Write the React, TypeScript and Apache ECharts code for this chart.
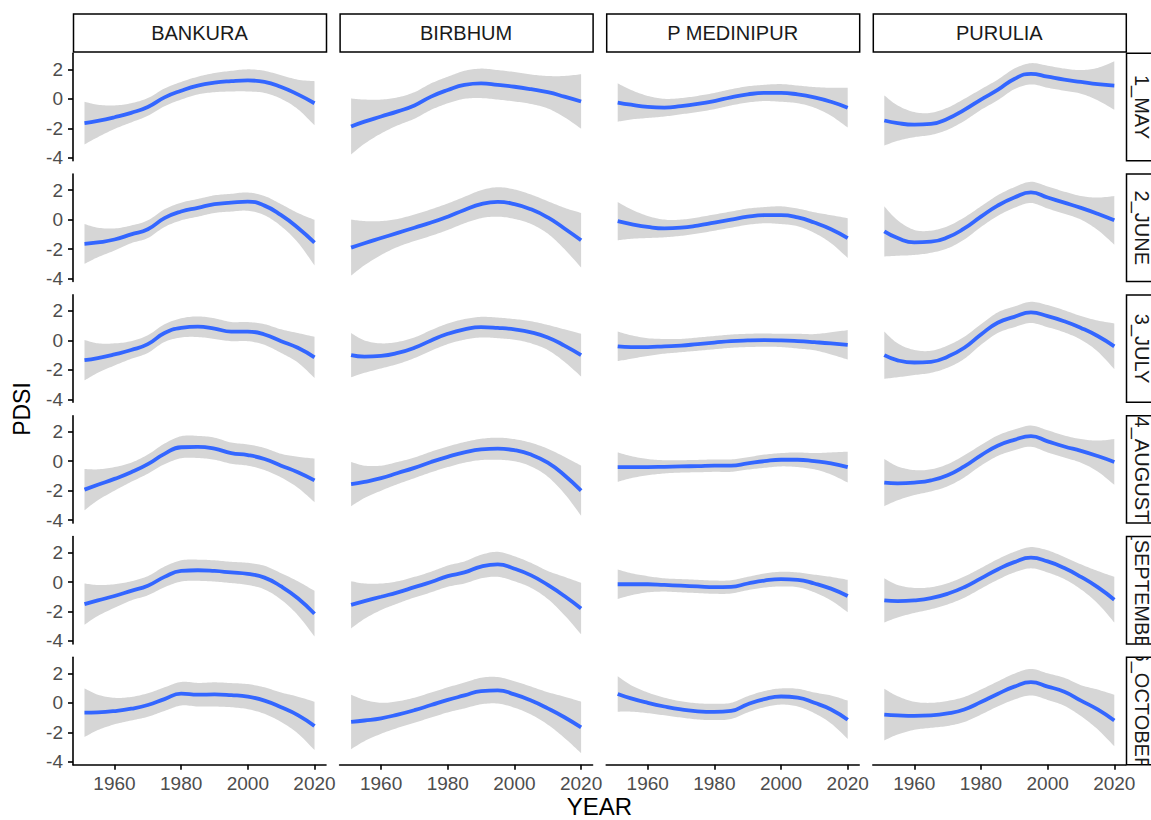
import React, { useEffect, useRef } from "react";
import * as echarts from "echarts";

// ---------------- data ----------------
const YEARS = [1951, 1955, 1960, 1965, 1970, 1975, 1980, 1985, 1990, 1995, 2000, 2005, 2010, 2015, 2020];
const DISTRICTS = ["BANKURA", "BIRBHUM", "P MEDINIPUR", "PURULIA"];
const MONTHS = ["1_MAY", "2_JUNE", "3_JULY", "4_AUGUST", "5_SEPTEMBER", "6_OCTOBER"];
const X_TICKS = [1960, 1980, 2000, 2020];
const Y_TICKS = [-4, -2, 0, 2];

// MAY
const mayBankuraFit = [-1.65, -1.5, -1.25, -0.95, -0.55, 0.1, 0.55, 0.9, 1.1, 1.2, 1.25, 1.15, 0.8, 0.3, -0.3];
const mayBankuraHalf = [1.45, 1.1, 0.8, 0.65, 0.6, 0.6, 0.6, 0.6, 0.65, 0.7, 0.75, 0.75, 0.8, 1.0, 1.5];
const mayBirbhumFit = [-1.88, -1.55, -1.2, -0.85, -0.45, 0.15, 0.6, 0.95, 1.05, 0.95, 0.82, 0.65, 0.45, 0.15, -0.18];
const mayBirbhumHalf = [1.9, 1.5, 1.15, 0.95, 0.9, 0.9, 0.9, 0.95, 1.0, 1.0, 1.0, 1.0, 1.1, 1.4, 1.85];
const mayMedinipurFit = [-0.25, -0.4, -0.55, -0.6, -0.5, -0.35, -0.15, 0.1, 0.3, 0.4, 0.4, 0.3, 0.1, -0.2, -0.6];
const mayMedinipurHalf = [1.3, 1.0, 0.75, 0.6, 0.55, 0.55, 0.55, 0.55, 0.55, 0.55, 0.6, 0.6, 0.7, 0.95, 1.35];
const mayPuruliaFit = [-1.47, -1.65, -1.75, -1.7, -1.35, -0.75, -0.05, 0.6, 1.35, 1.7, 1.5, 1.3, 1.15, 1.0, 0.9];
const mayPuruliaHalf = [1.7, 1.2, 0.85, 0.75, 0.75, 0.75, 0.7, 0.7, 0.7, 0.72, 0.75, 0.75, 0.8, 1.1, 1.65];

// JUNE
const junBankuraFit = [-1.65, -1.55, -1.35, -1.0, -0.65, 0.1, 0.55, 0.8, 1.05, 1.15, 1.22, 0.95, 0.3, -0.55, -1.56];
const junBankuraHalf = [1.35, 1.0, 0.75, 0.6, 0.6, 0.6, 0.6, 0.6, 0.6, 0.6, 0.62, 0.65, 0.75, 1.0, 1.55];
const junBirbhumFit = [-1.9, -1.6, -1.25, -0.9, -0.55, -0.2, 0.2, 0.65, 1.05, 1.2, 1.05, 0.7, 0.15, -0.6, -1.4];
const junBirbhumHalf = [1.9, 1.5, 1.15, 0.95, 0.9, 0.9, 0.9, 0.9, 0.95, 1.0, 1.0, 1.0, 1.1, 1.4, 1.85];
const junMedinipurFit = [-0.1, -0.3, -0.5, -0.6, -0.55, -0.4, -0.2, 0.0, 0.2, 0.3, 0.3, 0.15, -0.2, -0.65, -1.25];
const junMedinipurHalf = [1.3, 1.0, 0.75, 0.6, 0.55, 0.55, 0.55, 0.55, 0.55, 0.55, 0.6, 0.6, 0.7, 0.95, 1.35];
const junPuruliaFit = [-0.8, -1.25, -1.55, -1.5, -1.2, -0.6, 0.2, 0.95, 1.5, 1.85, 1.5, 1.15, 0.8, 0.4, -0.05];
const junPuruliaHalf = [1.7, 1.2, 0.85, 0.75, 0.75, 0.75, 0.7, 0.7, 0.7, 0.72, 0.75, 0.75, 0.8, 1.1, 1.65];

// JULY
const julBankuraFit = [-1.34, -1.2, -0.95, -0.65, -0.25, 0.5, 0.85, 0.93, 0.8, 0.6, 0.6, 0.4, -0.05, -0.5, -1.15];
const julBankuraHalf = [1.37, 1.0, 0.75, 0.6, 0.6, 0.6, 0.65, 0.7, 0.7, 0.65, 0.65, 0.7, 0.8, 1.0, 1.4];
const julBirbhumFit = [-1.0, -1.1, -1.05, -0.85, -0.5, 0.0, 0.45, 0.75, 0.9, 0.85, 0.75, 0.55, 0.2, -0.35, -1.0];
const julBirbhumHalf = [1.5, 1.1, 0.85, 0.75, 0.7, 0.7, 0.7, 0.7, 0.7, 0.7, 0.7, 0.75, 0.85, 1.1, 1.45];
const julMedinipurFit = [-0.4, -0.45, -0.45, -0.4, -0.35, -0.25, -0.15, -0.05, 0.0, 0.02, 0.0, -0.05, -0.12, -0.2, -0.3];
const julMedinipurHalf = [1.0, 0.8, 0.6, 0.5, 0.45, 0.45, 0.45, 0.45, 0.45, 0.45, 0.45, 0.5, 0.55, 0.75, 1.0];
const julPuruliaFit = [-1.0, -1.35, -1.5, -1.45, -1.1, -0.5, 0.4, 1.2, 1.6, 1.9, 1.65, 1.3, 0.85, 0.3, -0.4];
const julPuruliaHalf = [1.6, 1.15, 0.85, 0.75, 0.75, 0.75, 0.7, 0.7, 0.7, 0.72, 0.75, 0.75, 0.8, 1.05, 1.55];

// AUGUST
const augBankuraFit = [-1.93, -1.6, -1.2, -0.75, -0.2, 0.5, 0.95, 0.97, 0.85, 0.55, 0.42, 0.15, -0.3, -0.75, -1.3];
const augBankuraHalf = [1.4, 1.05, 0.8, 0.65, 0.65, 0.7, 0.75, 0.75, 0.75, 0.72, 0.72, 0.75, 0.8, 1.05, 1.48];
const augBirbhumFit = [-1.55, -1.4, -1.15, -0.8, -0.45, -0.05, 0.3, 0.6, 0.8, 0.85, 0.75, 0.45, -0.1, -0.95, -2.0];
const augBirbhumHalf = [1.5, 1.1, 0.85, 0.75, 0.7, 0.7, 0.7, 0.7, 0.72, 0.75, 0.75, 0.8, 0.95, 1.25, 1.7];
const augMedinipurFit = [-0.4, -0.4, -0.4, -0.38, -0.35, -0.33, -0.3, -0.3, -0.15, 0.0, 0.1, 0.1, 0.0, -0.15, -0.4];
const augMedinipurHalf = [1.0, 0.75, 0.55, 0.45, 0.42, 0.42, 0.42, 0.42, 0.42, 0.45, 0.45, 0.5, 0.55, 0.75, 1.05];
const augPuruliaFit = [-1.45, -1.5, -1.45, -1.3, -0.95, -0.35, 0.4, 1.05, 1.45, 1.7, 1.35, 1.0, 0.7, 0.35, -0.05];
const augPuruliaHalf = [1.6, 1.15, 0.85, 0.75, 0.75, 0.75, 0.7, 0.7, 0.7, 0.72, 0.75, 0.75, 0.8, 1.05, 1.55];

// SEPTEMBER
const sepBankuraFit = [-1.5, -1.25, -0.95, -0.6, -0.25, 0.35, 0.75, 0.8, 0.75, 0.65, 0.55, 0.3, -0.3, -1.1, -2.15];
const sepBankuraHalf = [1.4, 1.05, 0.8, 0.65, 0.65, 0.7, 0.72, 0.72, 0.72, 0.72, 0.75, 0.8, 0.9, 1.15, 1.55];
const sepBirbhumFit = [-1.55, -1.3, -1.0, -0.7, -0.35, 0.0, 0.4, 0.65, 1.05, 1.2, 0.9, 0.45, -0.2, -0.95, -1.8];
const sepBirbhumHalf = [1.6, 1.2, 0.9, 0.75, 0.7, 0.7, 0.72, 0.75, 0.8, 0.85, 0.85, 0.85, 0.95, 1.3, 1.75];
const sepMedinipurFit = [-0.15, -0.15, -0.15, -0.2, -0.25, -0.3, -0.35, -0.33, -0.1, 0.1, 0.2, 0.15, -0.1, -0.45, -0.95];
const sepMedinipurHalf = [1.0, 0.75, 0.55, 0.45, 0.45, 0.45, 0.45, 0.45, 0.45, 0.48, 0.5, 0.5, 0.6, 0.8, 1.1];
const sepPuruliaFit = [-1.25, -1.3, -1.25, -1.1, -0.8, -0.35, 0.25, 0.85, 1.35, 1.65, 1.4, 0.95, 0.35, -0.35, -1.2];
const sepPuruliaHalf = [1.5, 1.1, 0.85, 0.75, 0.72, 0.72, 0.7, 0.7, 0.7, 0.72, 0.75, 0.75, 0.85, 1.1, 1.55];

// OCTOBER
const octBankuraFit = [-0.67, -0.65, -0.56, -0.4, -0.15, 0.25, 0.62, 0.55, 0.57, 0.52, 0.42, 0.15, -0.3, -0.83, -1.57];
const octBankuraHalf = [1.65, 1.2, 0.9, 0.8, 0.8, 0.8, 0.8, 0.8, 0.82, 0.82, 0.85, 0.9, 1.0, 1.25, 1.64];
const octBirbhumFit = [-1.3, -1.2, -1.05, -0.8, -0.5, -0.15, 0.2, 0.5, 0.8, 0.85, 0.57, 0.15, -0.38, -0.98, -1.67];
const octBirbhumHalf = [1.85, 1.4, 1.05, 0.9, 0.85, 0.85, 0.85, 0.88, 0.9, 0.9, 0.9, 0.95, 1.1, 1.4, 1.75];
const octMedinipurFit = [0.6, 0.3, 0.0, -0.25, -0.45, -0.58, -0.62, -0.55, -0.1, 0.25, 0.43, 0.35, 0.0, -0.45, -1.15];
const octMedinipurHalf = [1.2, 0.9, 0.7, 0.6, 0.55, 0.55, 0.55, 0.55, 0.55, 0.55, 0.55, 0.6, 0.7, 0.95, 1.3];
const octPuruliaFit = [-0.8, -0.85, -0.88, -0.85, -0.72, -0.45, 0.05, 0.6, 1.1, 1.4, 1.1, 0.75, 0.15, -0.45, -1.2];
const octPuruliaHalf = [1.75, 1.3, 0.95, 0.85, 0.85, 0.85, 0.85, 0.85, 0.88, 0.9, 0.9, 0.95, 1.05, 1.35, 1.75];

// rows = months, columns = districts
const FITS = [
  [mayBankuraFit, mayBirbhumFit, mayMedinipurFit, mayPuruliaFit],
  [junBankuraFit, junBirbhumFit, junMedinipurFit, junPuruliaFit],
  [julBankuraFit, julBirbhumFit, julMedinipurFit, julPuruliaFit],
  [augBankuraFit, augBirbhumFit, augMedinipurFit, augPuruliaFit],
  [sepBankuraFit, sepBirbhumFit, sepMedinipurFit, sepPuruliaFit],
  [octBankuraFit, octBirbhumFit, octMedinipurFit, octPuruliaFit],
];
const HALFS = [
  [mayBankuraHalf, mayBirbhumHalf, mayMedinipurHalf, mayPuruliaHalf],
  [junBankuraHalf, junBirbhumHalf, junMedinipurHalf, junPuruliaHalf],
  [julBankuraHalf, julBirbhumHalf, julMedinipurHalf, julPuruliaHalf],
  [augBankuraHalf, augBirbhumHalf, augMedinipurHalf, augPuruliaHalf],
  [sepBankuraHalf, sepBirbhumHalf, sepMedinipurHalf, sepPuruliaHalf],
  [octBankuraHalf, octBirbhumHalf, octMedinipurHalf, octPuruliaHalf],
];

// ---------------- layout ----------------
const FONT = "'Liberation Sans', Arial, Helvetica, sans-serif";
const PANEL_LEFT = 73;
const PANEL_STEP_X = 266.6;
const PANEL_W = 253;
const PANEL_TOP = 53.3;
const PANEL_STEP_Y = 120.8;
const PANEL_H = 107.4;
const STRIP_TOP = 14;
const STRIP_H = 38;
const RSTRIP_X = 1126.5;
const RSTRIP_W = 38;

// Catmull-Rom smoothing of screen-space points (rendering only)
function smoothPath(pts: number[][], seg = 10): number[][] {
  const out: number[][] = [];
  const n = pts.length;
  for (let i = 0; i < n - 1; i++) {
    const p0 = pts[Math.max(i - 1, 0)];
    const p1 = pts[i];
    const p2 = pts[i + 1];
    const p3 = pts[Math.min(i + 2, n - 1)];
    for (let s = 0; s < seg; s++) {
      const t = s / seg;
      const t2 = t * t;
      const t3 = t2 * t;
      const f = (a: number, b: number, c: number, d: number) =>
        0.5 * (2 * b + (-a + c) * t + (2 * a - 5 * b + 4 * c - d) * t2 + (-a + 3 * b - 3 * c + d) * t3);
      out.push([f(p0[0], p1[0], p2[0], p3[0]), f(p0[1], p1[1], p2[1], p3[1])]);
    }
  }
  out.push(pts[n - 1]);
  return out;
}

function buildOption() {
  const grid: any[] = [];
  const xAxis: any[] = [];
  const yAxis: any[] = [];
  const series: any[] = [];

  MONTHS.forEach((_, i) => {
    DISTRICTS.forEach((_, j) => {
      const k = i * DISTRICTS.length + j;
      const bottomRow = i === MONTHS.length - 1;
      const leftCol = j === 0;
      grid.push({
        left: PANEL_LEFT + PANEL_STEP_X * j,
        top: PANEL_TOP + PANEL_STEP_Y * i,
        width: PANEL_W,
        height: PANEL_H,
        containLabel: false,
        outerBoundsMode: "none",
      });
      xAxis.push({
        gridIndex: k,
        type: "value",
        min: 1947.55,
        max: 2023.45,
        axisLine: { show: bottomRow, onZero: false, lineStyle: { color: "#000", width: 1.6 } },
        axisTick: { show: bottomRow, length: 5, customValues: X_TICKS, lineStyle: { color: "#000", width: 1.6 } },
        axisLabel: {
          show: bottomRow,
          customValues: X_TICKS,
          formatter: (v: number) => String(Math.round(v)),
          color: "#4d4d4d",
          fontSize: 19,
          fontFamily: FONT,
          margin: 9,
        },
        splitLine: { show: false },
      });
      yAxis.push({
        gridIndex: k,
        type: "value",
        min: -4.2,
        max: 3.09,
        axisLine: { show: leftCol, onZero: false, lineStyle: { color: "#000", width: 1.6 } },
        axisTick: { show: leftCol, length: 5, customValues: Y_TICKS, lineStyle: { color: "#000", width: 1.6 } },
        axisLabel: {
          show: leftCol,
          customValues: Y_TICKS,
          formatter: (v: number) => String(Math.round(v)),
          color: "#4d4d4d",
          fontSize: 19,
          fontFamily: FONT,
          margin: 10,
        },
        splitLine: { show: false },
      });

      const fit = FITS[i][j];
      const half = HALFS[i][j];

      // confidence band (grey ribbon)
      series.push({
        type: "custom",
        xAxisIndex: k,
        yAxisIndex: k,
        silent: true,
        z: 1,
        data: [[YEARS[0], fit[0]]],
        renderItem: (_params: any, api: any) => {
          const upper = YEARS.map((y, t) => api.coord([y, fit[t] + half[t]]));
          const lower = YEARS.map((y, t) => api.coord([y, fit[t] - half[t]]));
          const pts = smoothPath(upper).concat(smoothPath(lower).reverse());
          return {
            type: "polygon",
            shape: { points: pts },
            style: { fill: "#d6d6d6", stroke: "none" },
          };
        },
      });

      // fitted smooth line
      series.push({
        type: "line",
        xAxisIndex: k,
        yAxisIndex: k,
        smooth: 0.5,
        symbol: "none",
        silent: true,
        lineStyle: { color: "#3366ff", width: 3.8 },
        data: YEARS.map((y, t) => [y, fit[t]]),
        z: 3,
      });
    });
  });

  // right-hand strips (rotated month labels, clipped to their boxes)
  series.push({
    type: "custom",
    coordinateSystem: "none",
    silent: true,
    z: 5,
    data: MONTHS.map((_, i) => [i]),
    renderItem: (params: any) => {
      const i = params.dataIndex;
      const top = PANEL_TOP + PANEL_STEP_Y * i;
      return {
        type: "group",
        children: [
          {
            type: "rect",
            shape: { x: RSTRIP_X, y: top, width: RSTRIP_W, height: PANEL_H },
            style: { fill: "#fff", stroke: "#000", lineWidth: 1.5 },
          },
          {
            type: "group",
            clipPath: { type: "rect", shape: { x: RSTRIP_X, y: top, width: RSTRIP_W, height: PANEL_H } },
            children: [
              {
                type: "text",
                x: RSTRIP_X + 15.5,
                y: top + PANEL_H / 2,
                rotation: -Math.PI / 2,
                style: {
                  text: MONTHS[i],
                  fontSize: 20,
                  fontFamily: FONT,
                  fill: "#1a1a1a",
                  align: "center",
                  verticalAlign: "middle",
                },
              },
            ],
          },
        ],
      };
    },
  });

  const graphic: any[] = [];
  DISTRICTS.forEach((name, j) => {
    const x = PANEL_LEFT + PANEL_STEP_X * j;
    graphic.push({
      type: "rect",
      shape: { x: x + 0.5, y: STRIP_TOP, width: PANEL_W, height: STRIP_H },
      style: { fill: "#fff", stroke: "#000", lineWidth: 1.5 },
      silent: true,
    });
    graphic.push({
      type: "text",
      x: x + PANEL_W / 2,
      y: STRIP_TOP + STRIP_H / 2,
      style: {
        text: name,
        fontSize: 20,
        fontFamily: FONT,
        fill: "#1a1a1a",
        align: "center",
        verticalAlign: "middle",
        textAlign: "center",
        textVerticalAlign: "middle",
      },
      silent: true,
    });
  });
  graphic.push({
    type: "text",
    x: 22,
    y: PANEL_TOP + (PANEL_STEP_Y * 5 + PANEL_H) / 2,
    rotation: Math.PI / 2,
    style: {
      text: "PDSI",
      fontSize: 23,
      fontFamily: FONT,
      fill: "#000",
      align: "center",
      verticalAlign: "middle",
      textAlign: "center",
      textVerticalAlign: "middle",
    },
    silent: true,
  });
  graphic.push({
    type: "text",
    x: PANEL_LEFT + (PANEL_STEP_X * 3 + PANEL_W) / 2,
    y: 806,
    style: {
      text: "YEAR",
      fontSize: 24,
      fontFamily: FONT,
      fill: "#000",
      align: "center",
      verticalAlign: "middle",
      textAlign: "center",
      textVerticalAlign: "middle",
    },
    silent: true,
  });

  return {
    animation: false,
    backgroundColor: "#ffffff",
    grid,
    xAxis,
    yAxis,
    series,
    graphic,
  };
}

export default function App() {
  const ref = useRef<HTMLDivElement>(null);
  useEffect(() => {
    if (!ref.current) return;
    const chart = echarts.init(ref.current, null, { renderer: "svg" });
    chart.setOption(buildOption() as any);
    return () => {
      chart.dispose();
    };
  }, []);
  return (
    <div
      ref={ref}
      style={{ position: "fixed", left: 0, top: 0, width: 1151, height: 820, background: "#fff" }}
    />
  );
}
